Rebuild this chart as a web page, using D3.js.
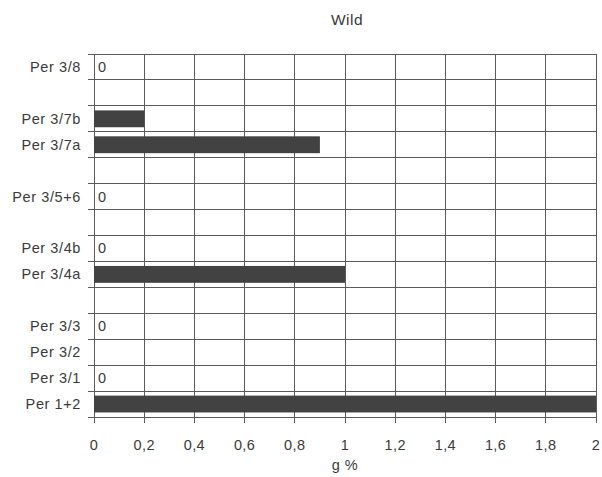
<!DOCTYPE html>
<html><head><meta charset="utf-8">
<script src="https://cdn.jsdelivr.net/npm/d3@7"></script>
<style>body{margin:0;background:#fff}svg{display:block}text{font-family:"Liberation Sans",Arial,sans-serif;fill:#3a3a3a}</style>
</head><body>
<script>
const categories = ["Per 3/8","","Per 3/7b","Per 3/7a"," ","Per 3/5+6","  ","Per 3/4b","Per 3/4a","   ","Per 3/3","Per 3/2","Per 3/1","Per 1+2"];
const values = [0,null,0.2,0.9,null,0,null,0,1.0,null,0,null,0,2.0];
const xTicks = [0,0.2,0.4,0.6,0.8,1,1.2,1.4,1.6,1.8,2];
const title = "Wild";
const xTitle = "g %";

const W=602,H=477, L=94, R=596, T=54, B=417;
const svg=d3.select("body").append("svg").attr("width",W).attr("height",H);
const x=d3.scaleLinear().domain([0,2]).range([L,R]);
const y=d3.scaleBand().domain(categories).range([T,B]).padding(0);
const grid="#5a5a5a";
const fs=14.5;

const bounds=categories.map(c=>y(c)).concat([B]);
svg.append("g").selectAll("line").data(bounds).join("line")
  .attr("x1",L-6).attr("x2",R).attr("y1",d=>d).attr("y2",d=>d)
  .attr("stroke",grid).attr("stroke-width",1).attr("shape-rendering","crispEdges");
svg.append("g").selectAll("line").data(xTicks).join("line")
  .attr("x1",d=>x(d)).attr("x2",d=>x(d)).attr("y1",T).attr("y2",B+6)
  .attr("stroke",grid).attr("stroke-width",1).attr("shape-rendering","crispEdges");

const bh=y.bandwidth()*0.65, off=(y.bandwidth()-bh)/2;
const data=categories.map((c,i)=>({c,v:values[i]}));
svg.append("g").selectAll("rect").data(data.filter(d=>d.v>0)).join("rect")
  .attr("x",x(0)).attr("y",d=>y(d.c)+off).attr("width",d=>x(d.v)-x(0)).attr("height",bh)
  .attr("fill","#424242");
svg.append("g").selectAll("text").data(data.filter(d=>d.v===0)).join("text")
  .attr("x",x(0)+4).attr("y",d=>y(d.c)+y.bandwidth()/2+5).attr("font-size",fs).text("0");

svg.append("g").selectAll("text").data(categories.filter(c=>c.trim()!=="")).join("text")
  .attr("x",L-13).attr("y",c=>y(c)+y.bandwidth()/2+5).attr("text-anchor","end").attr("font-size",fs)
  .attr("letter-spacing",0.6).text(c=>c);

svg.append("g").selectAll("text").data(xTicks).join("text")
  .attr("x",d=>x(d)).attr("y",450).attr("text-anchor","middle").attr("font-size",fs)
  .attr("letter-spacing",0.4).text(d=>String(d).replace(".",","));

svg.append("text").attr("x",(L+R)/2).attr("y",470).attr("text-anchor","middle").attr("font-size",fs).attr("letter-spacing",0.5).text(xTitle);
svg.append("text").attr("x",(L+R)/2+2).attr("y",25).attr("text-anchor","middle").attr("font-size",15.5).attr("letter-spacing",0.5).text(title);
</script>
</body></html>
